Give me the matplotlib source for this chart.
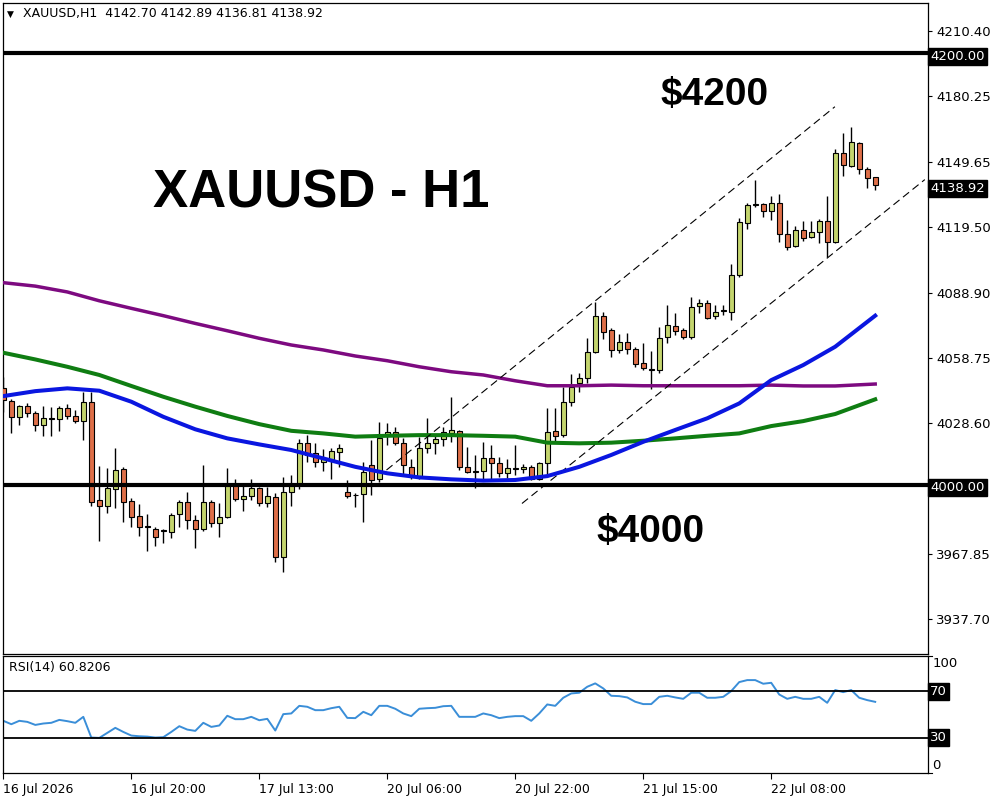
import matplotlib
matplotlib.use('Agg')
import matplotlib.pyplot as plt
import numpy as np

# H1 candles (open, high, low, close)
opens = [4044.7, 4039.0, 4031.2, 4036.5, 4033.1, 4027.5, 4030.8, 4030.3, 4035.4, 4031.8,
         4029.7, 4038.2, 3992.9, 3990.3, 3997.8, 4007.3, 3992.4, 3985.5, 3980.5, 3979.7,
         3978.8, 3978.2, 3986.2, 3991.8, 3983.6, 3979.3, 3991.8, 3982.1, 3984.9, 3999.8,
         3993.2, 3994.7, 3998.3, 3991.3, 3994.1, 3966.6, 3996.8, 3999.8, 4019.2, 4014.5,
         4010.4, 4011.4, 4015.3, 3996.4, 3995.3, 3995.5, 4009.0, 4002.5, 4023.0, 4024.3,
         4019.2, 4008.3, 4003.7, 4017.2, 4019.2, 4021.0, 4024.1, 4025.0, 4008.0, 4006.0,
         4006.3, 4012.2, 4009.9, 4005.3, 4007.3, 4007.1, 4008.0, 4002.6, 4009.9, 4025.0,
         4023.0, 4038.2, 4047.0, 4049.3, 4061.4, 4078.2, 4071.7, 4062.5, 4066.0, 4062.8,
         4056.3, 4053.2, 4053.2, 4068.3, 4073.6, 4071.7, 4068.3, 4082.9, 4084.4, 4078.2,
         4080.5, 4080.2, 4097.2, 4121.2, 4129.7, 4130.0, 4126.9, 4130.5, 4116.1, 4110.9,
         4118.1, 4114.7, 4117.0, 4122.3, 4112.7, 4153.7, 4148.0, 4158.6, 4146.3, 4142.70]
highs = [4050.1, 4039.6, 4037.0, 4038.0, 4034.3, 4036.5, 4036.2, 4036.5, 4037.4, 4034.6,
         4042.8, 4043.1, 4008.7, 4007.6, 4016.9, 4008.4, 3993.7, 3991.0, 3986.4, 3980.5,
         3979.3, 3986.7, 3992.9, 3996.8, 3985.9, 4009.1, 3992.9, 3991.3, 4007.6, 4002.6,
         3999.4, 4002.5, 3999.1, 3998.8, 3996.0, 4003.7, 4004.5, 4021.0, 4023.0, 4019.2,
         4016.4, 4016.9, 4018.9, 4002.2, 3996.0, 4010.7, 4020.7, 4028.9, 4028.4, 4026.9,
         4021.5, 4011.9, 4022.3, 4030.8, 4023.0, 4026.9, 4040.5, 4025.4, 4017.6, 4013.6,
         4019.9, 4018.4, 4013.0, 4011.9, 4018.4, 4009.4, 4009.1, 4010.7, 4035.4, 4035.4,
         4045.1, 4051.2, 4051.6, 4067.9, 4084.9, 4079.9, 4072.5, 4069.9, 4070.2, 4064.0,
         4065.6, 4062.0, 4073.3, 4083.3, 4079.5, 4072.5, 4086.9, 4086.0, 4085.6, 4083.3,
         4083.3, 4102.3, 4123.5, 4130.5, 4141.3, 4130.5, 4133.9, 4134.8, 4122.8, 4120.0,
         4122.3, 4122.4, 4123.1, 4133.9, 4155.7, 4163.0, 4165.7, 4159.1, 4147.5, 4142.89]
lows = [4033.9, 4024.1, 4027.7, 4031.5, 4025.0, 4022.6, 4022.6, 4025.0, 4030.3, 4028.8,
        4020.7, 3990.3, 3974.0, 3987.0, 3989.3, 3982.8, 3980.2, 3976.4, 3969.4, 3971.7,
        3973.1, 3975.1, 3980.5, 3979.3, 3970.5, 3978.5, 3980.2, 3975.6, 3984.4, 3992.6,
        3987.9, 3992.9, 3990.1, 3989.8, 3964.3, 3959.7, 3990.1, 3997.8, 4010.7, 4008.3,
        4006.5, 4002.5, 4008.0, 3993.7, 3989.5, 3982.8, 3995.2, 4001.4, 4018.4, 4018.4,
        4004.5, 4002.5, 4002.5, 4014.5, 4014.2, 4018.1, 4019.6, 4006.8, 4005.3, 3998.3,
        4002.2, 4002.2, 4003.7, 4003.2, 4004.5, 4005.6, 4002.2, 4002.2, 4003.7, 4019.2,
        4022.0, 4036.5, 4043.1, 4047.0, 4061.0, 4067.4, 4059.1, 4060.9, 4060.6, 4054.4,
        4053.2, 4044.2, 4051.9, 4065.6, 4069.4, 4067.4, 4067.4, 4079.8, 4076.7, 4076.7,
        4078.7, 4076.4, 4096.2, 4118.4, 4128.6, 4124.0, 4122.8, 4112.7, 4108.8, 4110.4,
        4113.2, 4114.3, 4111.9, 4105.7, 4112.2, 4143.3, 4147.5, 4143.9, 4137.8, 4136.81]
closes = [4039.3, 4031.2, 4036.5, 4033.1, 4027.5, 4030.8, 4030.6, 4035.4, 4032.0, 4029.7,
          4038.2, 3992.1, 3990.3, 3998.6, 4006.8, 3992.1, 3984.9, 3980.2, 3980.4, 3975.9,
          3978.4, 3985.9, 3991.8, 3983.6, 3979.7, 3991.8, 3982.1, 3984.9, 3999.8, 3993.2,
          3994.7, 3998.3, 3991.3, 3994.7, 3966.3, 3996.8, 3999.8, 4019.2, 4013.8, 4010.4,
          4011.7, 4015.6, 4016.9, 3994.9, 3995.1, 4006.0, 4002.2, 4021.5, 4024.3, 4019.2,
          4009.1, 4004.0, 4016.9, 4019.2, 4021.0, 4024.3, 4025.4, 4008.0, 4005.7, 4006.1,
          4012.2, 4009.9, 4005.3, 4007.6, 4007.4, 4008.3, 4002.6, 4009.9, 4024.6, 4022.7,
          4038.2, 4045.5, 4049.3, 4061.4, 4078.2, 4071.0, 4062.5, 4066.0, 4062.8, 4056.0,
          4054.0, 4053.1, 4067.9, 4074.1, 4071.4, 4068.3, 4082.2, 4084.4, 4077.1, 4079.9,
          4080.6, 4097.2, 4121.7, 4129.7, 4129.8, 4126.9, 4130.5, 4116.1, 4110.1, 4118.1,
          4114.3, 4117.0, 4122.3, 4112.4, 4153.7, 4148.3, 4158.8, 4146.3, 4142.1, 4138.92]

# moving averages, sampled at these bar numbers
ma_bars = [0, 4, 8, 12, 16, 20, 24, 28, 32, 36, 40, 44, 48, 52, 56, 60, 64, 68, 72,
           76, 80, 84, 88, 92, 96, 100, 104, 109]
ma_purple = [4093.7, 4092.1, 4089.4, 4085.3, 4081.8, 4078.4, 4074.8, 4071.4, 4067.9, 4064.8,
             4062.5, 4059.7, 4057.5, 4054.7, 4052.4, 4050.9, 4048.2, 4045.9, 4045.9, 4046.2,
             4045.9, 4045.9, 4045.9, 4045.9, 4046.2, 4045.8, 4045.8, 4046.7]
ma_green = [4061.2, 4058.1, 4054.7, 4050.9, 4045.8, 4040.8, 4036.2, 4031.9, 4028.1, 4025.0,
            4023.8, 4022.3, 4022.7, 4023.0, 4023.0, 4022.7, 4022.3, 4019.5, 4019.2, 4019.5,
            4020.4, 4021.5, 4022.7, 4023.8, 4027.2, 4029.5, 4032.8, 4039.6]
ma_blue = [4041.1, 4043.4, 4044.7, 4043.6, 4038.5, 4031.5, 4025.7, 4021.5, 4018.7, 4016.1,
           4012.2, 4008.3, 4005.3, 4003.4, 4002.5, 4001.9, 4002.2, 4004.0, 4008.3, 4013.8,
           4019.9, 4025.4, 4030.8, 4037.7, 4048.5, 4055.5, 4064.0, 4078.4]

rsi = [44.6, 41.7, 44.6, 43.7, 41.1, 42.3, 42.9, 45.4, 44.3, 42.9,
       48.0, 30.3, 30.0, 34.3, 38.6, 35.1, 32.0, 31.4, 31.1, 30.3,
       30.6, 35.1, 40.0, 37.1, 36.0, 42.9, 39.4, 40.6, 48.9, 46.0,
       46.0, 48.0, 45.1, 46.3, 36.3, 50.3, 50.9, 57.4, 56.6, 53.7,
       53.7, 55.4, 56.6, 47.1, 46.9, 52.3, 49.4, 57.4, 57.4, 54.9,
       50.9, 48.6, 54.9, 55.4, 55.7, 57.1, 57.4, 48.0, 48.0, 48.0,
       50.9, 49.4, 46.9, 48.0, 48.6, 48.6, 44.6, 50.9, 58.6, 57.4,
       64.3, 68.0, 68.6, 73.7, 76.6, 72.3, 66.0, 65.7, 64.6, 60.9,
       58.9, 58.9, 65.1, 66.0, 64.6, 63.4, 68.6, 68.6, 64.3, 64.3,
       65.1, 70.0, 77.7, 79.4, 79.4, 76.3, 77.1, 67.1, 63.4, 65.1,
       63.4, 63.4, 65.1, 60.0, 70.9, 69.1, 70.9, 64.3, 62.3, 60.8206]

# trend channel (bar, price) end points
upper_chan = [(47.9, 4006.8), (103.96, 4175.3)]
lower_chan = [(64.84, 3991.3), (115.2, 4141.5)]

price_ticks = [3937.70, 3967.85, 4028.60, 4058.75, 4088.90, 4119.50, 4149.65, 4180.25, 4210.40]
time_ticks = [0, 16, 32, 48, 64, 80, 96]
time_labels = ['16 Jul 2026', '16 Jul 20:00', '17 Jul 13:00', '20 Jul 06:00',
               '20 Jul 22:00', '21 Jul 15:00', '22 Jul 08:00']

bull = '#c4d56e'
bear = '#de6f48'

fig = plt.figure(figsize=(10, 8), dpi=100)
ax = fig.add_axes([0.003, 1 - 654 / 800, 0.925, 651 / 800])
ax2 = fig.add_axes([0.003, 1 - 773 / 800, 0.925, 117 / 800])

x = np.arange(len(opens))
o = np.array(opens)
c = np.array(closes)

# candles
ax.vlines(x, lows, highs, color='black', lw=1, zorder=2)
cols = [bull if cc > oo else bear for oo, cc in zip(o, c)]
h = np.maximum(np.abs(c - o), 0.35)
ax.bar(x, h, bottom=np.minimum(o, c), width=0.62, color=cols,
       edgecolor='black', linewidth=0.8, zorder=3)

# moving averages
ax.plot(ma_bars, ma_purple, color='#7d0a80', lw=2.5, zorder=4)
ax.plot(ma_bars, ma_green, color='#0f7d12', lw=2.9, zorder=4)
ax.plot(ma_bars, ma_blue, color='#0a16e0', lw=2.9, zorder=5)

# channel
for chan in (upper_chan, lower_chan):
    ax.plot([chan[0][0], chan[1][0]], [chan[0][1], chan[1][1]], color='black',
            lw=0.8, ls=(0, (7, 4)), zorder=4)

# levels
ax.axhline(4200, color='black', lw=3, zorder=6)
ax.axhline(4000, color='black', lw=3, zorder=6)

ax.set_xlim(-0.04, 115.6)
ax.set_ylim(3921.5, 4223.4)
ax.yaxis.tick_right()
ax.set_yticks(price_ticks)
ax.set_yticklabels(['%.2f' % t for t in price_ticks])
ax.tick_params(axis='y', direction='out', length=3, width=0.8, labelsize=9.5, pad=3)
ax.set_xticks([])
for s in ax.spines.values():
    s.set_linewidth(0.9)

for lvl in (4200.00, 4000.00, 4138.92):
    ax.text(1.0025, lvl - 1.5, '%.2f' % lvl, transform=ax.get_yaxis_transform(),
            color='white', fontsize=9.5, va='center', ha='left',
            bbox=dict(boxstyle='square,pad=0.15', fc='black', ec='black'))

# big labels
fig.text(321 / 1000, 1 - 194 / 800, 'XAUUSD - H1', fontsize=38, fontweight='bold',
         family='Liberation Sans', ha='center', va='center')
fig.text(715 / 1000, 1 - 95 / 800, '$4200', fontsize=28, fontweight='bold',
         family='Liberation Sans', ha='center', va='center')
fig.text(651 / 1000, 1 - 532 / 800, '$4000', fontsize=28, fontweight='bold',
         family='Liberation Sans', ha='center', va='center')

# header
fig.text(10 / 1000, 1 - 14 / 800, '\u25bc', fontsize=6.5, ha='center', va='center')
fig.text(23 / 1000, 1 - 14 / 800, 'XAUUSD,H1  4142.70 4142.89 4136.81 4138.92',
         fontsize=9, ha='left', va='center')

# RSI panel
ax2.plot(x, rsi, color='#3a8ed8', lw=1.4)
ax2.axhline(70, color='black', lw=1.3)
ax2.axhline(30, color='black', lw=1.3)
ax2.set_xlim(-0.04, 115.6)
ax2.set_ylim(0, 100)
ax2.set_yticks([])
ax2.text(0.006, 0.90, 'RSI(14) 60.8206', transform=ax2.transAxes, fontsize=9,
         ha='left', va='center')
yt = ax2.get_yaxis_transform()
ax2.text(1.005, 99, '100', transform=yt, fontsize=9.5, ha='left', va='top')
ax2.text(1.005, 1, '0', transform=yt, fontsize=9.5, ha='left', va='bottom')
for lvl in (70, 30):
    ax2.text(1.0025, lvl, str(lvl), transform=yt, color='white', fontsize=9.5,
             ha='left', va='center',
             bbox=dict(boxstyle='square,pad=0.15', fc='black', ec='black'))
for lvl in (100, 70, 30, 0):
    ax2.plot([1.0, 1.004], [lvl, lvl], transform=yt, color='black', lw=0.8, clip_on=False)

ax2.set_xticks(time_ticks)
ax2.set_xticklabels(time_labels, ha='left')
ax2.tick_params(axis='x', direction='out', length=4, width=0.8, labelsize=9, pad=3)
for s in ax2.spines.values():
    s.set_linewidth(0.9)

fig.savefig('out.png', dpi=100, facecolor='white')
